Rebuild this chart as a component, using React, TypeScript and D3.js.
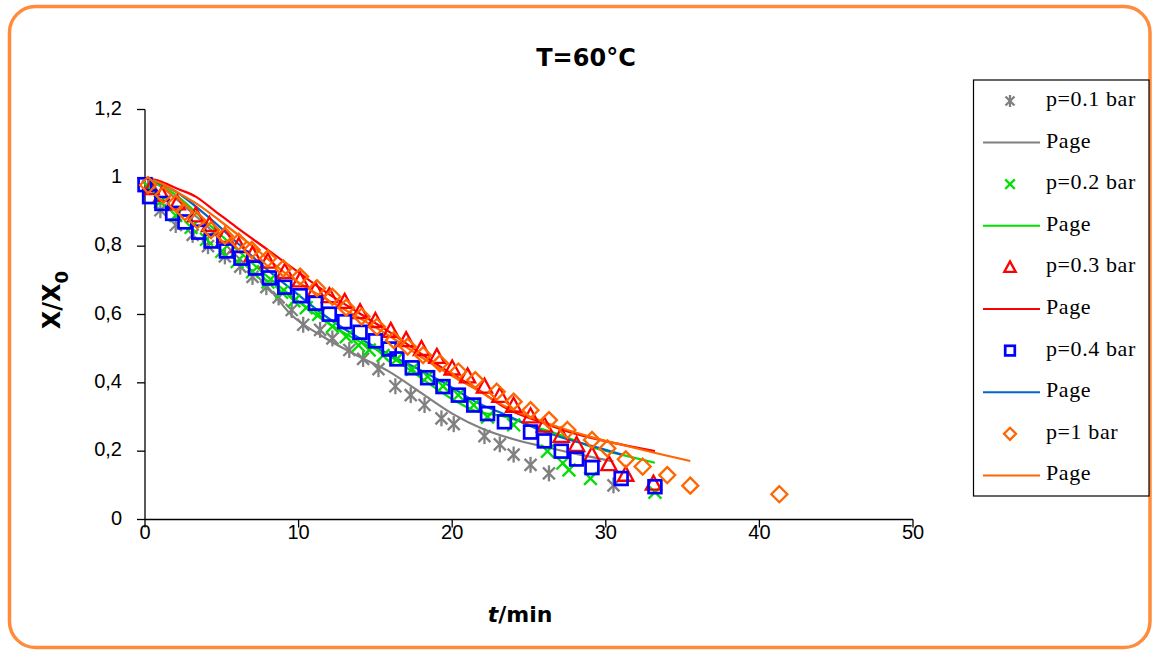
import React from "react";
import * as d3 from "d3";

// ---- data ----
const xTicks = [0, 10, 20, 30, 40, 50];
const yTicks = [0, 0.2, 0.4, 0.6, 0.8, 1, 1.2];
const yTickLabels = ["0", "0,2", "0,4", "0,6", "0,8", "1", "1,2"];

const p01T = [0.2, 1.0, 2.0, 3.1, 4.1, 5.2, 6.2, 7.0, 7.9, 8.7, 9.55, 10.3, 11.4, 12.2, 13.3, 14.2, 15.2, 16.3, 17.3, 18.2, 19.3, 20.1, 22.1, 23.1, 24.0, 25.1, 26.3, 30.5];
const p01V = [0.975, 0.905, 0.862, 0.833, 0.8, 0.77, 0.74, 0.71, 0.68, 0.65, 0.613, 0.57, 0.555, 0.53, 0.496, 0.47, 0.44, 0.39, 0.364, 0.335, 0.296, 0.279, 0.244, 0.22, 0.19, 0.16, 0.135, 0.1];
const p01LineT = [0, 1, 2, 3, 4, 5, 6, 7, 8, 9.5, 11.6, 13.8, 16, 18, 20, 22, 24, 26, 28, 30.5];
const p01LineV = [1, 0.975, 0.94, 0.9, 0.86, 0.815, 0.77, 0.725, 0.68, 0.6, 0.535, 0.48, 0.43, 0.37, 0.31, 0.265, 0.235, 0.213, 0.193, 0.17];

const p02T = [0.3, 1.0, 2.0, 3.0, 4.0, 5.0, 6.0, 7.0, 8.0, 8.9, 9.7, 10.5, 11.3, 12.2, 13.1, 13.9, 14.6, 15.5, 16.4, 17.4, 18.4, 19.4, 20.4, 21.4, 22.3, 24.0, 26.2, 27.2, 27.6, 29.0, 33.2];
const p02V = [0.97, 0.93, 0.89, 0.855, 0.82, 0.785, 0.755, 0.725, 0.695, 0.665, 0.64, 0.62, 0.6, 0.565, 0.535, 0.51, 0.496, 0.48, 0.47, 0.44, 0.418, 0.39, 0.364, 0.335, 0.3, 0.277, 0.2, 0.165, 0.145, 0.12, 0.08];
const p02LineT = [0, 2, 4, 6, 8, 9.45, 11.6, 13.8, 16, 18.1, 19.9, 21.4, 23.5, 25.5, 27.5, 29, 31, 33.2];
const p02LineV = [1, 0.95, 0.87, 0.79, 0.71, 0.657, 0.584, 0.525, 0.476, 0.41, 0.355, 0.32, 0.3, 0.27, 0.24, 0.213, 0.19, 0.166];

const p03T = [0.4, 1.1, 2.1, 3.3, 4.2, 5.2, 6.1, 7.0, 8.0, 9.1, 10.1, 11.1, 12.0, 13.0, 14.0, 15.0, 16.0, 17.0, 18.0, 19.0, 20.0, 21.0, 22.1, 23.1, 24.0, 25.1, 26.0, 27.1, 28.1, 29.1, 30.2, 31.3, 33.1];
const p03V = [0.97, 0.95, 0.925, 0.89, 0.862, 0.83, 0.8, 0.775, 0.755, 0.725, 0.7, 0.671, 0.654, 0.637, 0.607, 0.581, 0.552, 0.525, 0.499, 0.476, 0.442, 0.419, 0.389, 0.362, 0.333, 0.302, 0.275, 0.245, 0.218, 0.189, 0.162, 0.131, 0.105];
const p03LineT = [0, 1, 2, 3.3, 4.5, 5.9, 8, 9.8, 11.8, 13.8, 16, 18.1, 19.9, 21.4, 23.5, 25.7, 27.5, 29.6, 31.5, 33.2];
const p03LineV = [1, 0.99, 0.97, 0.945, 0.905, 0.857, 0.789, 0.73, 0.665, 0.608, 0.546, 0.481, 0.428, 0.389, 0.326, 0.286, 0.258, 0.233, 0.215, 0.2];

const p04T = [0, 0.3, 1.1, 1.8, 2.6, 3.5, 4.3, 5.3, 6.25, 7.2, 8.1, 9.1, 10.1, 11.1, 12.0, 13.0, 14.0, 15.0, 15.9, 16.4, 17.4, 18.4, 19.4, 20.4, 21.4, 22.3, 23.4, 25.1, 26.0, 27.1, 28.1, 29.1, 31.0, 33.2];
const p04V = [0.98, 0.945, 0.925, 0.896, 0.871, 0.841, 0.815, 0.786, 0.765, 0.736, 0.707, 0.68, 0.655, 0.633, 0.601, 0.579, 0.548, 0.523, 0.499, 0.47, 0.444, 0.415, 0.389, 0.364, 0.335, 0.31, 0.286, 0.256, 0.23, 0.2, 0.177, 0.152, 0.12, 0.096];
const p04LineT = [0, 2, 4, 6, 8, 9.45, 11.6, 13.8, 16, 18.1, 19.9, 21.5, 23.5, 25.7, 27.5, 29.6, 31.1];
const p04LineV = [1, 0.96, 0.89, 0.81, 0.73, 0.677, 0.6, 0.535, 0.481, 0.433, 0.389, 0.345, 0.306, 0.262, 0.235, 0.209, 0.189];

const p1T = [0.2, 1.2, 2.0, 2.6, 3.4, 4.3, 5.2, 6.1, 6.95, 8.0, 9.0, 10.1, 11.2, 12.2, 13.1, 14.1, 15.1, 16.2, 17.1, 18.1, 19.2, 20.4, 21.5, 22.9, 24.0, 25.1, 26.3, 27.5, 29.1, 30.1, 31.3, 32.4, 34.0, 35.5, 41.3];
const p1V = [0.979, 0.95, 0.925, 0.9, 0.876, 0.847, 0.83, 0.813, 0.789, 0.764, 0.735, 0.711, 0.677, 0.652, 0.62, 0.594, 0.564, 0.525, 0.506, 0.481, 0.457, 0.433, 0.408, 0.374, 0.345, 0.32, 0.291, 0.262, 0.233, 0.208, 0.176, 0.155, 0.13, 0.099, 0.074];
const p1LineT = [0, 1, 2, 3.5, 5, 7, 9.45, 11.6, 13.8, 16, 18, 19.9, 21.4, 23.5, 25.7, 27.5, 29, 31.1, 33.3, 35.5];
const p1LineV = [1, 0.985, 0.96, 0.92, 0.87, 0.8, 0.71, 0.65, 0.594, 0.535, 0.475, 0.423, 0.385, 0.33, 0.29, 0.262, 0.242, 0.218, 0.194, 0.171];

const seriesLabels = ["p=0.1 bar", "p=0.2 bar", "p=0.3 bar", "p=0.4 bar", "p=1 bar"];
const modelLabel = "Page";

type Shape = "star" | "x" | "tri" | "sq" | "dia";
const series = [
  { t: p01T, v: p01V, lt: p01LineT, lv: p01LineV, shape: "star" as Shape, mc: "#808080", lc: "#808080" },
  { t: p02T, v: p02V, lt: p02LineT, lv: p02LineV, shape: "x" as Shape, mc: "#00E000", lc: "#00E000" },
  { t: p03T, v: p03V, lt: p03LineT, lv: p03LineV, shape: "tri" as Shape, mc: "#FF0000", lc: "#FF0000" },
  { t: p04T, v: p04V, lt: p04LineT, lv: p04LineV, shape: "sq" as Shape, mc: "#0000FF", lc: "#0066CC" },
  { t: p1T, v: p1V, lt: p1LineT, lv: p1LineV, shape: "dia" as Shape, mc: "#FF6600", lc: "#FF6600" },
];

function Marker({ x, y, shape, color, s }: { x: number; y: number; shape: Shape; color: string; s: number }) {
  const sw = 2.3;
  if (shape === "star") {
    const a = s * 0.75;
    return (
      <g stroke={color} strokeWidth={sw}>
        <line x1={x - a} y1={y - a} x2={x + a} y2={y + a} />
        <line x1={x - a} y1={y + a} x2={x + a} y2={y - a} />
        <line x1={x} y1={y - s} x2={x} y2={y + s} />
      </g>
    );
  }
  if (shape === "x") {
    const a = s * 0.8;
    return (
      <g stroke={color} strokeWidth={sw}>
        <line x1={x - a} y1={y - a} x2={x + a} y2={y + a} />
        <line x1={x - a} y1={y + a} x2={x + a} y2={y - a} />
      </g>
    );
  }
  if (shape === "tri") {
    const h = s;
    return <polygon points={`${x},${y - h} ${x + h * 0.95},${y + h * 0.75} ${x - h * 0.95},${y + h * 0.75}`} fill="none" stroke={color} strokeWidth={sw} />;
  }
  if (shape === "sq") {
    const a = s * 0.8;
    return <rect x={x - a} y={y - a} width={2 * a} height={2 * a} fill="none" stroke={color} strokeWidth={sw + 0.4} />;
  }
  return <polygon points={`${x},${y - s} ${x + s},${y} ${x},${y + s} ${x - s},${y}`} fill="none" stroke={color} strokeWidth={sw} />;
}

export default function App() {
  const W = 1158, H = 653;
  const x = d3.scaleLinear().domain([0, 50]).range([145, 913]);
  const y = d3.scaleLinear().domain([0, 1.2]).range([519.5, 109.5]);
  const line = d3
    .line<[number, number]>()
    .x((d) => x(d[0]))
    .y((d) => y(d[1]))
    .curve(d3.curveMonotoneX);

  const legendTop = 80;
  const rowH = 41.6;
  const sans = "'Liberation Sans', Arial, sans-serif";
  const comic = "'DejaVu Sans', sans-serif";
  const serif = "'Liberation Serif', 'Times New Roman', serif";

  return (
    <svg width={W} height={H} style={{ position: "absolute", left: 0, top: 0 }}>
      <rect x={0} y={0} width={W} height={H} fill="#fff" />
      <rect x={9.5} y={6.5} width={1140.5} height={641} rx={26} fill="none" stroke="#FF8C3C" strokeWidth={3.5} />

      {/* title */}
      <text x={586} y={66} textAnchor="middle" fontFamily={comic} fontWeight="bold" fontSize={24}>T=60°C</text>

      {/* axes */}
      <line x1={145} y1={y(0)} x2={913} y2={y(0)} stroke="#000" strokeWidth={1.3} />
      <line x1={145} y1={y(0)} x2={145} y2={y(1.2)} stroke="#000" strokeWidth={1.3} />
      {xTicks.map((t) => (
        <g key={"xt" + t}>
          <line x1={x(t)} x2={x(t)} y1={y(0)} y2={y(0) + 8} stroke="#000" strokeWidth={1.3} />
          <text x={x(t)} y={y(0) + 14} textAnchor="middle" dominantBaseline="middle" fontFamily={sans} fontSize={20}>{t}</text>
        </g>
      ))}
      {yTicks.map((v, i) => (
        <g key={"yt" + v}>
          <line x1={137} x2={145} y1={y(v)} y2={y(v)} stroke="#000" strokeWidth={1.3} />
          <text x={122} y={y(v)} textAnchor="end" dominantBaseline="middle" fontFamily={sans} fontSize={20}>{yTickLabels[i]}</text>
        </g>
      ))}

      {/* axis titles */}
      <text x={520} y={622} textAnchor="middle" fontFamily={comic} fontWeight="bold" fontSize={22}>
        <tspan fontStyle="italic">t</tspan>/min
      </text>
      <text transform="translate(60,300) rotate(-90)" textAnchor="middle" fontFamily={comic} fontWeight="bold" fontSize={24}>
        X/X<tspan dy={8} fontSize={18}>0</tspan>
      </text>

      {/* model lines */}
      {series.map((s, i) => (
        <path key={"l" + i} d={line(s.lt.map((t, j) => [t, s.lv[j]] as [number, number])) || ""} fill="none" stroke={s.lc} strokeWidth={2.2} />
      ))}
      {/* markers */}
      {series.map((s, i) => (
        <g key={"m" + i}>
          {s.t.map((t, j) => (
            <Marker key={j} x={x(t)} y={y(s.v[j])} shape={s.shape} color={s.mc} s={8} />
          ))}
        </g>
      ))}

      {/* legend */}
      <rect x={973.5} y={legendTop} width={175.5} height={416} fill="#fff" stroke="#000" strokeWidth={1.2} />
      {series.map((s, i) => {
        const cy1 = legendTop + 21 + 2 * i * rowH;
        const cy2 = cy1 + rowH;
        return (
          <g key={"lg" + i}>
            <Marker x={1010} y={cy1} shape={s.shape} color={s.mc} s={6} />
            <text x={1046} y={cy1} dominantBaseline="middle" fontFamily={serif} fontSize={22} letterSpacing={0.6}>{seriesLabels[i]}</text>
            <line x1={983} x2={1040} y1={cy2} y2={cy2} stroke={s.lc} strokeWidth={2} />
            <text x={1046} y={cy2} dominantBaseline="middle" fontFamily={serif} fontSize={22} letterSpacing={0.6}>{modelLabel}</text>
          </g>
        );
      })}
    </svg>
  );
}
